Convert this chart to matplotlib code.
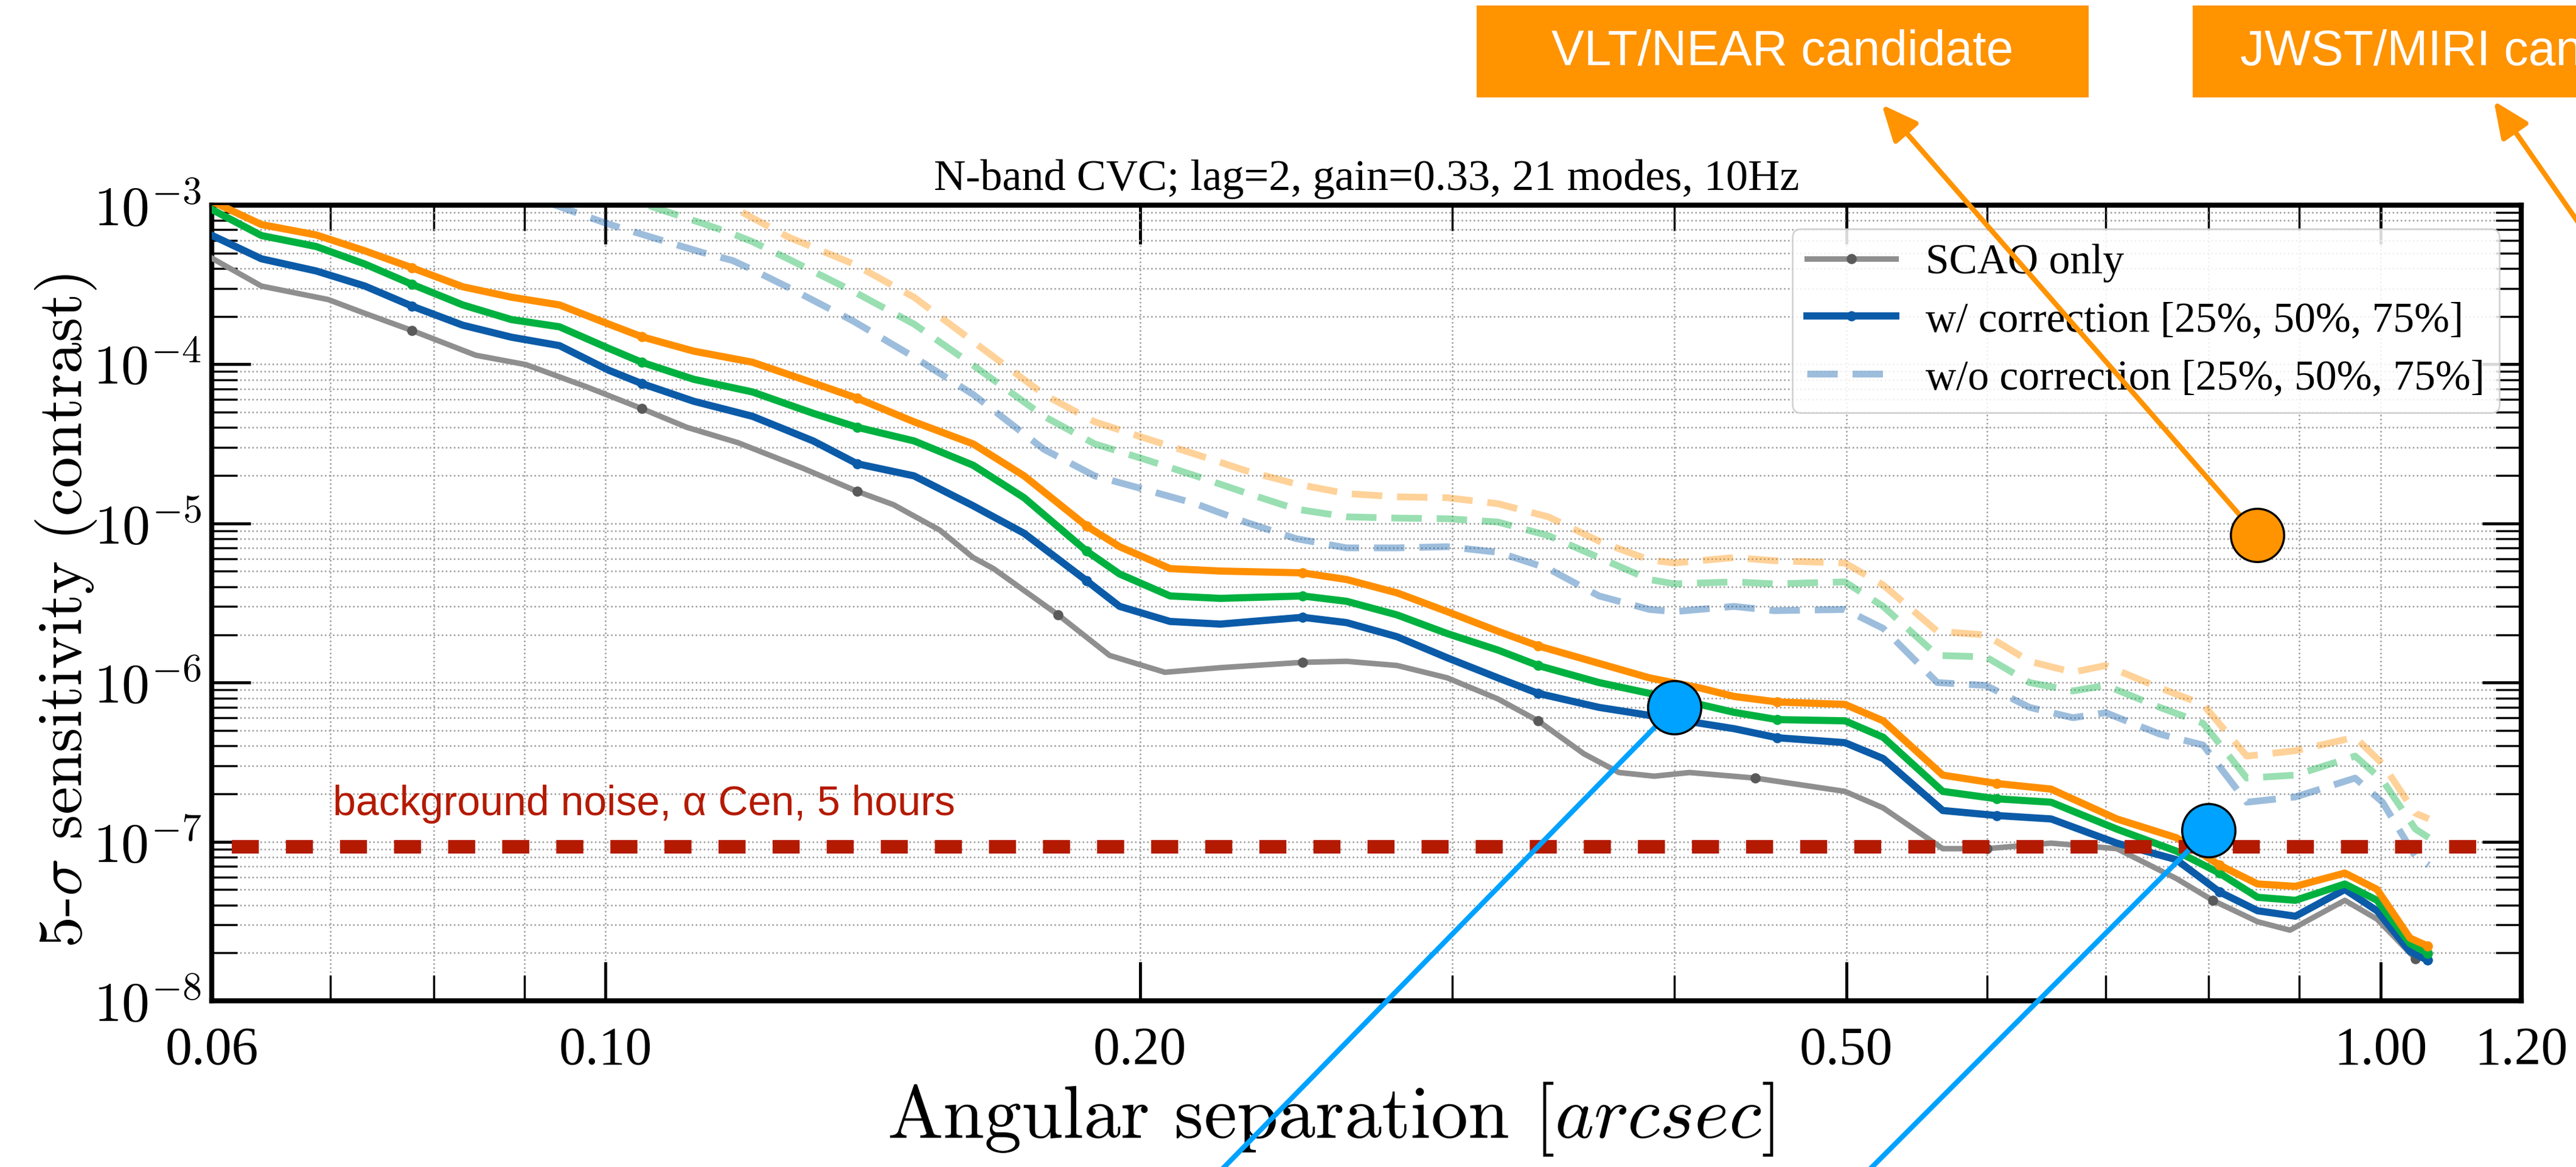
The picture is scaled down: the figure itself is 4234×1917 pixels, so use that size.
import numpy as np
import matplotlib
matplotlib.use("Agg")
import matplotlib.pyplot as plt
from matplotlib.patches import Rectangle
from matplotlib.ticker import NullFormatter

plt.rcParams['font.family'] = 'Liberation Serif'
plt.rcParams['mathtext.fontset'] = 'cm'

W, H = 4234, 1917

# ---- data (separation in arcsec, 5-sigma contrast) ----
sep_scao = [0.0601, 0.0640, 0.0698, 0.0731, 0.0778, 0.0845, 0.0902, 0.0975, 0.1048, 0.1111,
            0.1187, 0.1292, 0.1386, 0.1453, 0.1543, 0.1611, 0.1654, 0.1799, 0.1923, 0.2066,
            0.2220, 0.2470, 0.2615, 0.2792, 0.2980, 0.3182, 0.3352, 0.3557, 0.3723, 0.3898,
            0.4080, 0.4443, 0.4991, 0.5245, 0.5666, 0.6002, 0.6521, 0.7101, 0.7671, 0.8042,
            0.8525, 0.8890, 0.9546, 0.9953, 1.0461]
scao = [4.60e-4, 3.10e-4, 2.55e-4, 2.10e-4, 1.63e-4, 1.14e-4, 9.95e-5, 7.24e-5, 5.27e-5, 4.02e-5,
        3.22e-5, 2.22e-5, 1.59e-5, 1.31e-5, 9.06e-6, 6.10e-6, 5.20e-6, 2.66e-6, 1.48e-6, 1.16e-6,
        1.24e-6, 1.34e-6, 1.36e-6, 1.28e-6, 1.07e-6, 7.89e-7, 5.75e-7, 3.57e-7, 2.72e-7, 2.58e-7,
        2.72e-7, 2.51e-7, 2.07e-7, 1.63e-7, 9.04e-8, 9.04e-8, 9.79e-8, 9.04e-8, 5.87e-8, 4.28e-8,
        3.14e-8, 2.78e-8, 4.28e-8, 3.26e-8, 1.84e-8]
marks_scao = [4, 8, 12, 17, 21, 26, 31, 35, 39, 44]

sep_corr = [0.0601, 0.0640, 0.0687, 0.0732, 0.0778, 0.0831, 0.0885, 0.0942, 0.1004, 0.1048,
            0.1121, 0.1210, 0.1309, 0.1386, 0.1492, 0.1611, 0.1721, 0.1866, 0.1948, 0.2080,
            0.2220, 0.2470, 0.2615, 0.2792, 0.2980, 0.3182, 0.3352, 0.3628, 0.3873, 0.4135,
            0.4322, 0.4571, 0.4991, 0.5245, 0.5666, 0.6078, 0.6521, 0.7101, 0.7671, 0.8112,
            0.8525, 0.8953, 0.9546, 0.9953, 1.0387, 1.0627]
corr_25 = [6.41e-4, 4.60e-4, 3.86e-4, 3.10e-4, 2.32e-4, 1.76e-4, 1.48e-4, 1.31e-4, 9.18e-5, 7.57e-5,
           5.86e-5, 4.71e-5, 3.30e-5, 2.37e-5, 1.99e-5, 1.29e-5, 8.67e-6, 4.37e-6, 3.01e-6, 2.42e-6,
           2.33e-6, 2.57e-6, 2.38e-6, 1.94e-6, 1.43e-6, 1.07e-6, 8.55e-7, 6.98e-7, 6.22e-7, 5.55e-7,
           5.13e-7, 4.50e-7, 4.19e-7, 3.33e-7, 1.57e-7, 1.46e-7, 1.39e-7, 9.79e-8, 7.71e-8, 4.84e-8,
           3.68e-8, 3.40e-8, 5.01e-8, 3.68e-8, 2.04e-8, 1.80e-8]
corr_50 = [9.31e-4, 6.44e-4, 5.50e-4, 4.26e-4, 3.18e-4, 2.36e-4, 1.91e-4, 1.72e-4, 1.26e-4, 1.03e-4,
           8.05e-5, 6.70e-5, 4.92e-5, 4.02e-5, 3.30e-5, 2.32e-5, 1.45e-5, 6.71e-6, 4.81e-6, 3.50e-6,
           3.38e-6, 3.50e-6, 3.24e-6, 2.66e-6, 2.03e-6, 1.60e-6, 1.28e-6, 1.00e-6, 8.55e-7, 7.29e-7,
           6.50e-7, 5.85e-7, 5.75e-7, 4.53e-7, 2.07e-7, 1.86e-7, 1.77e-7, 1.20e-7, 8.73e-8, 6.35e-8,
           4.47e-8, 4.28e-8, 5.42e-8, 4.28e-8, 2.29e-8, 1.99e-8]
corr_75 = [1.05e-3, 7.55e-4, 6.50e-4, 5.16e-4, 4.04e-4, 3.07e-4, 2.64e-4, 2.36e-4, 1.79e-4, 1.49e-4,
           1.21e-4, 1.03e-4, 7.64e-5, 6.12e-5, 4.35e-5, 3.16e-5, 1.99e-5, 9.64e-6, 7.14e-6, 5.20e-6,
           5.02e-6, 4.89e-6, 4.44e-6, 3.66e-6, 2.79e-6, 2.10e-6, 1.70e-6, 1.32e-6, 1.07e-6, 9.25e-7,
           8.18e-7, 7.55e-7, 7.29e-7, 5.75e-7, 2.62e-7, 2.32e-7, 2.14e-7, 1.39e-7, 1.06e-7, 7.13e-8,
           5.42e-8, 5.24e-8, 6.35e-8, 5.01e-8, 2.48e-8, 2.21e-8]
marks_corr = [4, 9, 13, 17, 21, 26, 31, 35, 39, 45]

nan = np.nan
sep_nocorr = [0.0928, 0.1001, 0.1076, 0.1134, 0.1179, 0.1210, 0.1267, 0.1380, 0.1492, 0.1611,
              0.1766, 0.1886, 0.2014, 0.2150, 0.2293, 0.2449, 0.2615, 0.2792, 0.2980, 0.3182,
              0.3397, 0.3628, 0.3873, 0.4000, 0.4322, 0.4553, 0.4991, 0.5245, 0.5626, 0.5992,
              0.6342, 0.6708, 0.7000, 0.7509, 0.7942, 0.8405, 0.8953, 0.9674, 1.0024, 1.0461, 1.0643]
nocorr_25 = [1.04e-3, 7.68e-4, 6.00e-4, 5.04e-4, 4.49e-4, 3.93e-4, 3.05e-4, 1.86e-4, 1.11e-4, 6.46e-5,
             2.92e-5, 1.99e-5, 1.63e-5, 1.33e-5, 1.02e-5, 8.02e-6, 7.02e-6, 7.02e-6, 7.14e-6, 6.59e-6,
             5.20e-6, 3.50e-6, 2.88e-6, 2.79e-6, 3.01e-6, 2.83e-6, 2.88e-6, 2.19e-6, 1.00e-6, 9.59e-7,
             6.98e-7, 6.01e-7, 6.46e-7, 4.74e-7, 4.05e-7, 1.77e-7, 1.91e-7, 2.51e-7, 1.77e-7, 8.07e-8, 7.13e-8]
nocorr_50 = [nan, 1.22e-3, 9.31e-4, 7.68e-4, 6.61e-4, 5.89e-4, 4.60e-4, 2.86e-4, 1.79e-4, 9.86e-5,
             4.71e-5, 3.16e-5, 2.52e-5, 1.99e-5, 1.56e-5, 1.23e-5, 1.10e-5, 1.08e-5, 1.07e-5, 1.02e-5,
             8.38e-6, 6.10e-6, 4.44e-6, 4.17e-6, 4.29e-6, 4.17e-6, 4.29e-6, 3.01e-6, 1.48e-6, 1.45e-6,
             1.00e-6, 8.85e-7, 9.59e-7, 6.98e-7, 5.55e-7, 2.51e-7, 2.62e-7, 3.45e-7, 2.43e-7, 1.20e-7, 1.06e-7]
nocorr_75 = [nan, nan, nan, 1.24e-3, 9.75e-4, 8.32e-4, 6.32e-4, 4.26e-4, 2.64e-4, 1.39e-4,
             6.46e-5, 4.35e-5, 3.43e-5, 2.72e-5, 2.15e-5, 1.77e-5, 1.54e-5, 1.47e-5, 1.45e-5, 1.33e-5,
             1.10e-5, 7.73e-6, 5.89e-6, 5.64e-6, 6.10e-6, 5.83e-6, 5.64e-6, 4.10e-6, 2.10e-6, 1.99e-6,
             1.36e-6, 1.16e-6, 1.28e-6, 9.25e-7, 7.29e-7, 3.45e-7, 3.73e-7, 4.53e-7, 3.08e-7, 1.51e-7, 1.39e-7]

noise_level = 9.3e-8
noise_span = [0.0616, 1.15]

near_cand_x, near_cand_y = 0.852, 8.45e-6
det_x = [0.400, 0.800]
det_y = [6.98e-7, 1.18e-7]

xticks_major = [0.06, 0.10, 0.20, 0.50, 1.00, 1.20]
xtick_labels = ['0.06', '0.10', '0.20', '0.50', '1.00', '1.20']
xticks_minor = [0.07, 0.08, 0.09, 0.3, 0.4, 0.6, 0.7, 0.8, 0.9]
yticks_major = [1e-8, 1e-7, 1e-6, 1e-5, 1e-4, 1e-3]
ytick_labels = [r'$10^{-8}$', r'$10^{-7}$', r'$10^{-6}$', r'$10^{-5}$', r'$10^{-4}$', r'$10^{-3}$']

c_scao = '#8f8f8f'
c_25 = '#0b5ba8'
c_50 = '#00b140'
c_75 = '#ff8f00'
c_orange = '#ff9300'
c_det = '#00a2ff'
c_noise = '#b41a00'


def ff(x, y):
    # top-left pixel position -> figure fraction
    return (x / W, 1 - y / H)


fig = plt.figure(figsize=(W / 100, H / 100), dpi=100)
ax = fig.add_axes([348 / W, 1 - 1644 / H, 3796 / W, 1307 / H])

# without correction (dashed, faded)
h_nocorr, = ax.plot(sep_nocorr, nocorr_25, color=c_25, lw=8, alpha=0.4, dashes=(4.5, 2.2), zorder=2)
ax.plot(sep_nocorr, nocorr_50, color=c_50, lw=8, alpha=0.4, dashes=(4.5, 2.2), zorder=2)
ax.plot(sep_nocorr, nocorr_75, color=c_75, lw=8, alpha=0.4, dashes=(4.5, 2.2), zorder=2)

h_scao, = ax.plot(sep_scao, scao, color=c_scao, lw=6.5, marker='o', ms=11,
                  mfc='#5a5a5a', mec='#5a5a5a', markevery=marks_scao, zorder=3)
h_corr, = ax.plot(sep_corr, corr_25, color=c_25, lw=8.5, marker='o', ms=11, markevery=marks_corr, zorder=3)
ax.plot(sep_corr, corr_50, color=c_50, lw=8.5, marker='o', ms=11, markevery=marks_corr, zorder=3)
ax.plot(sep_corr, corr_75, color=c_75, lw=8.5, marker='o', ms=11, markevery=marks_corr, zorder=3)

# background noise level
ax.plot(noise_span, [noise_level] * 2, color=c_noise, lw=16, dashes=(2, 2),
        dash_capstyle='butt', zorder=4)
ax.text(0.0702, 1.47e-7, 'background noise, α Cen, 5 hours', color=c_noise,
        fontsize=49, family='Liberation Sans', va='baseline')

ax.set_xscale('log')
ax.set_yscale('log')
ax.set_xlim(0.06, 1.2)
ax.set_ylim(1e-8, 1e-3)
ax.set_xticks(xticks_major, labels=xtick_labels, fontsize=63)
ax.set_xticks(xticks_minor, minor=True)
ax.xaxis.set_minor_formatter(NullFormatter())
ax.set_yticks(yticks_major, labels=ytick_labels, fontsize=66)
ax.yaxis.set_minor_formatter(NullFormatter())
ax.tick_params(which='both', direction='in', top=True, right=True)
ax.tick_params(which='major', length=46, width=3.5)
ax.tick_params(which='minor', length=30, width=2.5)
ax.tick_params(axis='x', which='major', pad=30)
ax.tick_params(axis='y', which='major', pad=12)
for s in ax.spines.values():
    s.set_linewidth(6)
ax.grid(True, which='both', ls=':', lw=1.8, color='#9a9a9a')

ax.set_title('N-band CVC; lag=2, gain=0.33, 21 modes, 10Hz', fontsize=52, pad=18)
ax.set_xlabel(r'Angular separation [$\mathit{arcsec}$]', fontsize=88, fontfamily='cmr10')
ax.xaxis.set_label_coords(0.4845, -0.10)
ax.set_ylabel(r'5-$\sigma$ sensitivity (contrast)', fontsize=74, fontfamily='cmr10')
ax.yaxis.set_label_coords(-0.049, 0.49)

leg = ax.legend([h_scao, h_corr, h_nocorr],
                ['SCAO only', 'w/ correction [25%, 50%, 75%]', 'w/o correction [25%, 50%, 75%]'],
                loc='upper right', bbox_to_anchor=(0.9905, 0.9702), borderaxespad=0,
                fontsize=50, handlelength=2.1, handletextpad=0.7, labelspacing=0.45,
                borderpad=0.35, framealpha=0.85, edgecolor='#cccccc', fancybox=True)
leg.get_frame().set_linewidth(2)

# candidate markers and annotation overlays
ax.plot(det_x, det_y, 'o', ms=63, mfc=c_det, mec='black', mew=2.5, clip_on=False, zorder=12)
ax.plot([near_cand_x], [near_cand_y], 'o', ms=63, mfc=c_orange, mec='black', mew=2.5,
        clip_on=False, zorder=12)

ax.annotate('', xy=(near_cand_x, near_cand_y), xycoords='data',
            xytext=ff(3093, 172), textcoords='figure fraction',
            arrowprops=dict(arrowstyle='<|-,head_length=0.9,head_width=0.4', color=c_orange,
                            lw=6, shrinkA=0, shrinkB=30, mutation_scale=40),
            annotation_clip=False, zorder=11)
ax.annotate('', xy=ff(4300, 455), xycoords='figure fraction',
            xytext=ff(4099, 166), textcoords='figure fraction',
            arrowprops=dict(arrowstyle='<|-,head_length=0.9,head_width=0.4', color=c_orange,
                            lw=6, shrinkA=0, shrinkB=0, mutation_scale=40),
            annotation_clip=False, zorder=11)
for xd, yd, xe in zip(det_x, det_y, [1931, 2994]):
    ax.annotate('', xy=(xd, yd), xycoords='data', xytext=ff(xe, 2000), textcoords='figure fraction',
                arrowprops=dict(arrowstyle='-', color=c_det, lw=6, shrinkA=0, shrinkB=30),
                annotation_clip=False, zorder=11)

fig.add_artist(Rectangle(ff(2427, 160), (3433 - 2427) / W, 151 / H, transform=fig.transFigure,
                         color=c_orange, lw=0))
fig.add_artist(Rectangle(ff(3604, 160), (4300 - 3604) / W, 151 / H, transform=fig.transFigure,
                         color=c_orange, lw=0))
fig.text(*ff(2930, 86), 'VLT/NEAR candidate', ha='center', va='center', color='white',
         fontsize=58, family='Liberation Sans')
fig.text(*ff(3682, 86), 'JWST/MIRI candidate', ha='left', va='center', color='white',
         fontsize=58, family='Liberation Sans')

fig.savefig('out.png', dpi=100)
